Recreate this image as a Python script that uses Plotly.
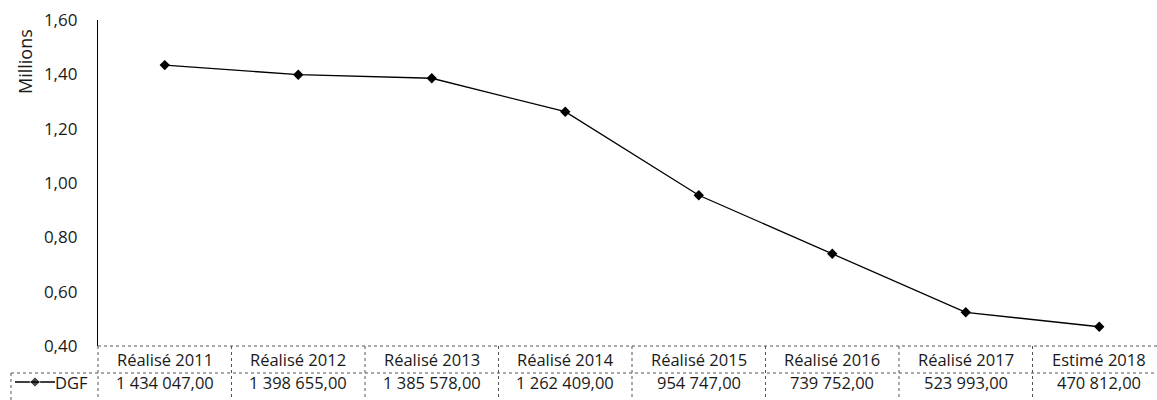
import plotly.graph_objects as go

# Catégories et valeurs de la DGF (en euros)
categories = ["Réalisé 2011", "Réalisé 2012", "Réalisé 2013", "Réalisé 2014",
              "Réalisé 2015", "Réalisé 2016", "Réalisé 2017", "Estimé 2018"]
dgf_values = [1434047.00, 1398655.00, 1385578.00, 1262409.00,
              954747.00, 739752.00, 523993.00, 470812.00]
series_name = "DGF"
y_ticks = [0.40, 0.60, 0.80, 1.00, 1.20, 1.40, 1.60]
y_tick_labels = ["0,40", "0,60", "0,80", "1,00", "1,20", "1,40", "1,60"]


def fr_number(v):
    s = f"{v:,.2f}"
    return s.replace(",", " ").replace(".", ",")


W, H = 1157, 400
# plot area in pixels (left, right, top, bottom)
PL, PR, PT, PB = 98, 1157, 20, 346
cat_px = 133.5
y_lo, y_hi = 0.4, 1.6

FONT = "Open Sans"
TXT = "#1a1a1a"
GRID = "#555555"
FS = 16.5


def fx(px):
    return px / W


def fy(px):
    return 1 - px / H


x_idx = list(range(len(categories)))
y_millions = [v / 1e6 for v in dgf_values]
x_right = -0.5 + (PR - PL) / cat_px

row1_top, row1_bot, table_bot = PB, 373, 400
row1_mid, row2_mid = 359.5, 382.5
cell_left = 11

fig = go.Figure()
fig.add_trace(go.Scatter(
    x=x_idx, y=y_millions, mode="lines+markers", name=series_name,
    line=dict(color="black", width=1.3),
    marker=dict(symbol="diamond", size=8, color="black"),
    showlegend=False, hoverinfo="skip",
))

# legend key in the label cell of the table, on its own small axes
fig.add_trace(go.Scatter(
    x=[0, 0.5, 1], y=[0.5, 0.5, 0.5], xaxis="x2", yaxis="y2",
    mode="lines+markers", cliponaxis=False,
    line=dict(color="black", width=1.3),
    marker=dict(symbol="diamond", size=[0, 8, 0], color="black"),
    showlegend=False, hoverinfo="skip",
))

shapes = []
line_style = dict(color=GRID, width=1, dash="dot")
shapes.append(dict(type="line", xref="paper", yref="paper", x0=fx(PL), x1=1,
                   y0=fy(row1_top), y1=fy(row1_top), line=line_style))
shapes.append(dict(type="line", xref="paper", yref="paper", x0=fx(cell_left), x1=1,
                   y0=fy(row1_bot), y1=fy(row1_bot), line=line_style))
for i in range(len(categories)):
    xb = PL + i * cat_px
    shapes.append(dict(type="line", xref="paper", yref="paper", x0=fx(xb), x1=fx(xb),
                       y0=fy(row1_top), y1=fy(table_bot), line=line_style))
shapes.append(dict(type="line", xref="paper", yref="paper",
                   x0=fx(cell_left), x1=fx(cell_left),
                   y0=fy(row1_bot), y1=fy(table_bot), line=line_style))

annotations = []
for i, (cat, val) in enumerate(zip(categories, dgf_values)):
    cx = fx(PL + (i + 0.5) * cat_px)
    annotations.append(dict(x=cx, y=fy(row1_mid), xref="paper", yref="paper",
                            text=cat, showarrow=False, xanchor="center",
                            yanchor="middle",
                            font=dict(family=FONT, size=FS, color=TXT)))
    annotations.append(dict(x=cx, y=fy(row2_mid), xref="paper", yref="paper",
                            text=fr_number(val), showarrow=False, xanchor="center",
                            yanchor="middle",
                            font=dict(family=FONT, size=FS, color=TXT)))
annotations.append(dict(x=fx(90), y=fy(row2_mid), xref="paper", yref="paper",
                        text=series_name, showarrow=False, xanchor="right",
                        yanchor="middle",
                        font=dict(family=FONT, size=FS, color=TXT)))
annotations.append(dict(x=fx(25), y=fy(62), xref="paper", yref="paper",
                        text="Millions", showarrow=False, textangle=-90,
                        xanchor="center", yanchor="middle",
                        font=dict(family=FONT, size=18, color=TXT)))

fig.update_layout(
    width=W, height=H,
    margin=dict(l=0, r=0, t=0, b=0, pad=0, autoexpand=False),
    paper_bgcolor="white", plot_bgcolor="white",
    font=dict(family=FONT, size=FS, color=TXT),
    shapes=shapes, annotations=annotations,
    xaxis=dict(domain=[fx(PL), fx(PR)], range=[-0.5, x_right], showgrid=False,
               zeroline=False, showticklabels=False, showline=False,
               anchor="y", automargin=False),
    yaxis=dict(domain=[fy(PB), fy(PT)], range=[y_lo, y_hi], tickvals=y_ticks,
               ticktext=y_tick_labels, showgrid=False, zeroline=False,
               showline=True, linecolor="black", linewidth=1.3, ticks="",
               ticklabelstandoff=16, anchor="x", automargin=False,
               tickfont=dict(family=FONT, size=17, color=TXT)),
    xaxis2=dict(domain=[fx(15), fx(55)], range=[0, 1], visible=False,
                anchor="y2", automargin=False),
    yaxis2=dict(domain=[fy(392), fy(372)], range=[0, 1], visible=False,
                anchor="x2", automargin=False),
)

fig.write_html("out.html")
